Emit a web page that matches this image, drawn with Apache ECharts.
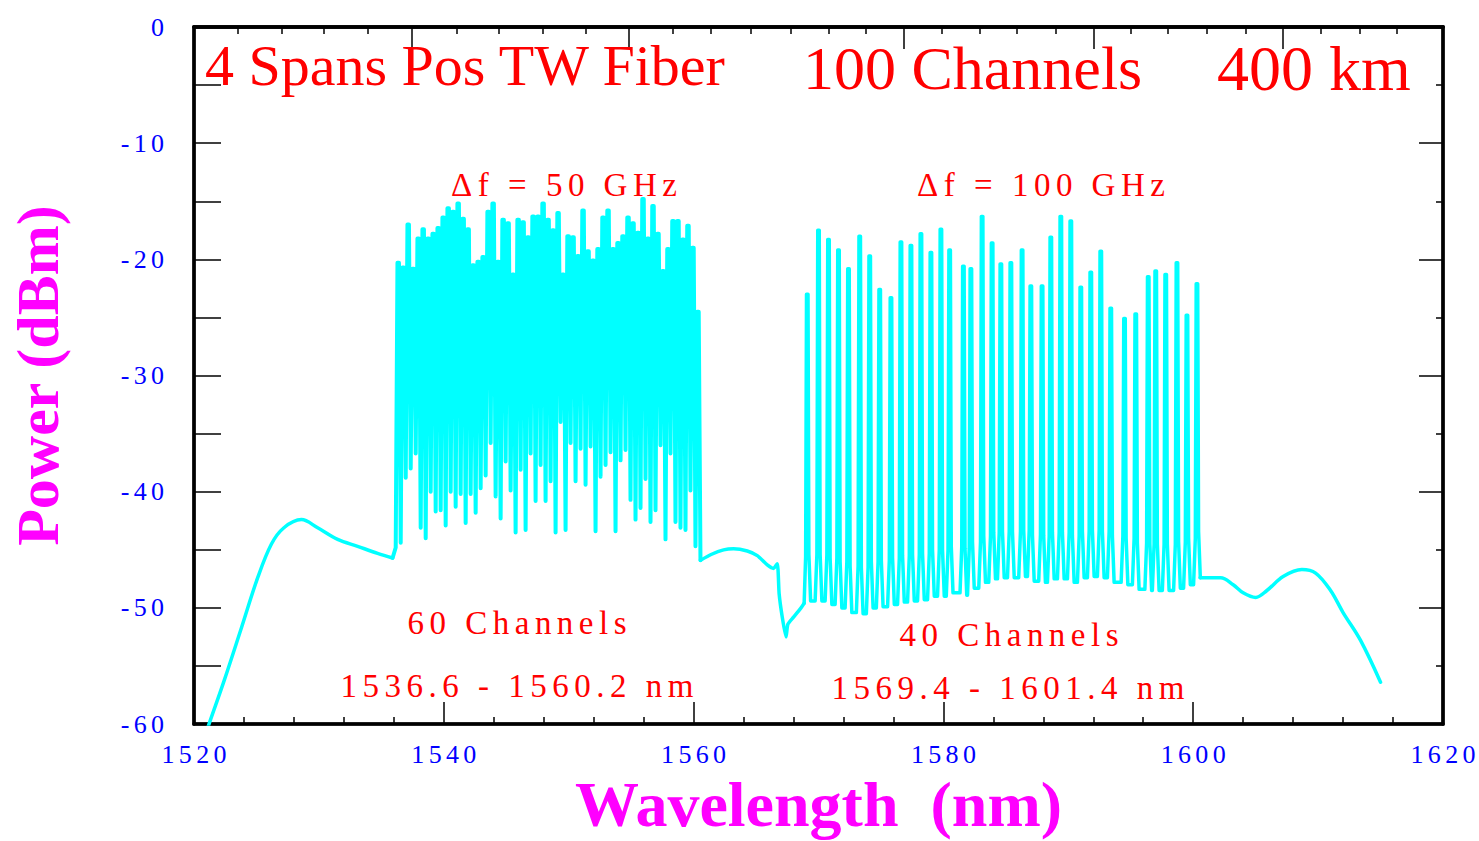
<!DOCTYPE html>
<html>
<head>
<meta charset="utf-8">
<script src="https://cdn.jsdelivr.net/npm/echarts@6/dist/echarts.min.js"></script>
<style>
html,body{margin:0;padding:0;background:#ffffff;}
#chart{width:1479px;height:841px;}
</style>
</head>
<body>
<div id="chart"></div>
<script>
// ---------------- DATA ----------------
// Amplified spontaneous emission background, [wavelength nm, power dBm]
const aseLeft = [[1520.9,-61.0],[1521.2,-60.0],[1522.4,-56.3],[1523.8,-51.7],[1525.1,-47.4],[1526.2,-44.5],
  [1527.2,-43.1],[1528.6,-42.4],[1529.9,-43.1],[1531.5,-44.1],[1533.1,-44.7],[1534.7,-45.3],[1535.9,-45.7]];
const aseMid = [[1560.55,-45.9],[1561.4,-45.4],[1562.4,-45.0],[1563.2,-44.9],[1564.3,-45.1],[1565.1,-45.5],
  [1565.9,-46.3],[1566.4,-46.6],[1566.7,-46.2],[1566.85,-48.8],[1567.1,-50.8],[1567.4,-52.5],[1567.55,-51.4],
  [1568.0,-50.8],[1568.6,-50.0],[1568.85,-49.6]];
const aseRight = [[1600.55,-47.4],[1602.2,-47.4],[1603.2,-48.0],[1604.0,-48.7],[1605.0,-49.1],[1605.9,-48.5],
  [1607.2,-47.3],[1608.7,-46.7],[1609.8,-47.0],[1611.0,-48.5],[1612.0,-50.4],[1613.4,-52.8],[1615.0,-56.4]];

// 50 GHz band: channel wavelengths, channel peak power, power minimum before each channel
const ch50Wl = [1536.35,1536.75,1537.15,1537.55,1537.95,1538.35,1538.75,1539.15,1539.55,1539.95,
  1540.35,1540.75,1541.15,1541.55,1541.95,1542.35,1542.75,1543.15,1543.55,1543.95,
  1544.35,1544.75,1545.15,1545.55,1545.95,1546.35,1546.75,1547.15,1547.55,1547.95,
  1548.35,1548.75,1549.15,1549.55,1549.95,1550.35,1550.75,1551.15,1551.55,1551.95,
  1552.35,1552.75,1553.15,1553.55,1553.95,1554.35,1554.75,1555.15,1555.55,1555.95,
  1556.35,1556.75,1557.15,1557.55,1557.95,1558.35,1558.75,1559.15,1559.55,1559.95,
  1560.35];
const ch50Peak = [-20.3,-20.7,-17.0,-20.8,-18.2,-17.4,-18.2,-17.8,-17.3,-16.4,
  -15.6,-15.9,-15.2,-16.5,-17.4,-20.5,-20.2,-19.8,-15.9,-15.2,
  -20.2,-16.6,-16.9,-21.3,-16.6,-16.8,-18.1,-16.3,-16.3,-15.2,
  -16.6,-17.5,-16.0,-21.3,-18.0,-18.1,-19.7,-15.8,-19.3,-20.1,
  -19.1,-16.4,-15.8,-19.1,-18.6,-18.0,-16.4,-16.9,-17.7,-14.8,
  -18.2,-15.4,-17.8,-21.0,-19.1,-16.7,-16.7,-18.3,-17.1,-19.0,
  -24.5];
const ch50Valley = [-44.8,
  -44.4,-38.8,-38.0,-36.7,-43.1,-44.0,-40.0,-41.7,-41.6,-42.9,
  -40.0,-41.3,-40.2,-42.7,-40.2,-41.8,-39.7,-38.6,-35.8,-40.4,
  -42.3,-37.4,-39.9,-43.5,-38.1,-43.3,-36.7,-40.8,-37.7,-40.8,
  -39.1,-43.5,-34.0,-43.3,-35.8,-39.1,-36.3,-39.4,-36.1,-43.4,
  -38.7,-37.7,-36.6,-43.4,-37.3,-36.4,-40.7,-42.4,-41.4,-38.9,
  -42.6,-41.6,-36.0,-44.1,-36.7,-42.6,-43.1,-43.3,-39.9,-44.7];

// 100 GHz band: channel wavelengths, peak power, floor level (before first + after each channel)
const ch100Wl = [1569.1,1570.0,1570.8,1571.6,1572.4,1573.3,1574.1,1574.9,1575.8,1576.6,
  1577.4,1578.2,1579.0,1579.8,1580.5,1581.6,1582.2,1583.1,1583.9,1584.6,
  1585.4,1586.3,1587.0,1587.9,1588.6,1589.4,1590.2,1591.0,1591.8,1592.6,
  1593.4,1594.5,1595.4,1596.4,1597.0,1597.8,1598.7,1599.5,1600.3];
const ch100Peak = [-23.0,-17.5,-18.3,-19.2,-20.8,-18.0,-19.7,-22.6,-23.3,-18.5,
  -18.8,-17.8,-19.4,-17.4,-19.2,-20.6,-20.8,-16.3,-18.6,-20.4,
  -20.3,-19.2,-22.3,-22.3,-18.1,-16.3,-16.7,-22.4,-21.1,-19.3,
  -24.2,-25.1,-24.7,-21.5,-21.0,-21.3,-20.3,-24.8,-22.1];
const ch100Floor = [-49.6,-49.4,-49.4,-49.7,-50.0,-50.4,-50.5,-50.0,-49.9,-49.7,
  -49.5,-49.4,-49.3,-49.0,-49.0,-48.7,-48.9,-48.3,-47.8,-47.5,
  -47.4,-47.4,-47.3,-47.7,-47.8,-47.5,-47.5,-47.8,-47.4,-47.3,
  -47.4,-47.8,-48.0,-48.4,-48.5,-48.5,-48.5,-48.3,-48.0,-47.4];

// Tick values
const xRange = [1520, 1620];
const yRange = [-60, 0];
const topMajorTicks = [1537.4, 1554.8, 1576.8, 1592.0, 1607.2];
const topMinorTicks = [1523.5,1527.0,1530.4,1533.9,1541.0,1544.4,1547.9,1551.4,1558.3,1561.4,1564.6,
  1567.8,1570.8,1573.8,1579.9,1582.9,1585.9,1589.0,1595.0,1598.0,1601.1,1604.2,1610.2,1613.3,1616.3];

// Texts
const titleTexts = ['4 Spans Pos TW Fiber', '100 Channels', '400 km'];
const noteTexts = ['\u0394f = 50 GHz', '\u0394f = 100 GHz', '60 Channels', '1536.6 - 1560.2 nm',
  '40 Channels', '1569.4 - 1601.4 nm'];

// ---------------- DRAWING STYLE (peak shape) ----------------
const PEAK50_HALF = 0.06, VALLEY50_OFF = 0.2;
const PEAK100_HALF = 0.06, SKIRT100_X = 0.13, BASE100_X = 0.27, SKIRT100_RISE = 4;

// ---------------- BUILD THE TRACES ----------------
const band50 = [aseLeft[aseLeft.length - 1]];
ch50Wl.forEach((w, i) => {
  band50.push([w - VALLEY50_OFF, ch50Valley[i]]);
  band50.push([w - PEAK50_HALF, ch50Peak[i]]);
  band50.push([w + PEAK50_HALF, ch50Peak[i]]);
});
band50.push(aseMid[0]);

const band100 = [aseMid[aseMid.length - 1]];
ch100Wl.forEach((w, i) => {
  const fl = ch100Floor[i], fr = ch100Floor[i + 1];
  band100.push([w - BASE100_X, fl]);
  band100.push([w - SKIRT100_X, fl + SKIRT100_RISE]);
  band100.push([w - PEAK100_HALF, ch100Peak[i]]);
  band100.push([w + PEAK100_HALF, ch100Peak[i]]);
  band100.push([w + SKIRT100_X, fr + SKIRT100_RISE]);
  band100.push([w + BASE100_X, fr]);
});
band100.push(aseRight[0]);

const SERIF = '"Liberation Serif", "Times New Roman", serif';
const spaced = s => Array.from(s).join('\u2006');

const chart = echarts.init(document.getElementById('chart'), null, {renderer: 'svg'});

const tickStyle = {color: '#000', width: 1.5};
const frameLine = {show: true, onZero: false, lineStyle: {color: '#000', width: 3.5}};
const CYAN = '#00ffff';

function note(text, x, y, size) {
  return {type: 'text', x: x, y: y, z: 100,
    style: {text: spaced(text), fill: '#ff0000', fontFamily: SERIF, fontSize: size,
      align: 'center', verticalAlign: 'middle'}};
}
function title(text, x, y, size) {
  return {type: 'text', x: x, y: y, z: 100,
    style: {text: text, fill: '#ff0000', fontFamily: SERIF, fontSize: size,
      align: 'left', verticalAlign: 'middle'}};
}
function trace(data, width, smooth) {
  return {type: 'line', xAxisIndex: 0, yAxisIndex: 0, data: data,
    showSymbol: false, symbol: 'none', smooth: smooth, clip: true, sampling: null,
    lineStyle: {color: CYAN, width: width, join: 'round', cap: 'round'},
    emphasis: {disabled: true}, silent: true};
}

chart.setOption({
  animation: false,
  backgroundColor: '#ffffff',
  grid: {left: 193, right: 36, top: 27, bottom: 114, show: true, borderColor: '#000', borderWidth: 3, backgroundColor: 'transparent'},
  xAxis: [
    {type: 'value', position: 'bottom', min: xRange[0], max: xRange[1], interval: 20,
      axisLine: frameLine,
      axisTick: {show: true, inside: true, length: 22, lineStyle: tickStyle},
      minorTick: {show: true, splitNumber: 5, length: 7, lineStyle: tickStyle},
      splitLine: {show: false}, minorSplitLine: {show: false},
      axisLabel: {margin: 17, color: '#0000ff', fontFamily: SERIF, fontSize: 26,
        formatter: v => spaced(String(v))},
      name: 'Wavelength  (nm)', nameLocation: 'middle', nameGap: 47,
      nameTextStyle: {color: '#ff00ff', fontFamily: SERIF, fontSize: 64, fontWeight: 'bold'}},
    {type: 'value', position: 'top', min: xRange[0], max: xRange[1],
      axisLine: frameLine,
      axisTick: {show: true, inside: true, length: 22, lineStyle: tickStyle, customValues: topMajorTicks},
      axisLabel: {show: false}, splitLine: {show: false}},
    {type: 'value', position: 'top', min: xRange[0], max: xRange[1],
      axisLine: frameLine,
      axisTick: {show: true, inside: true, length: 7, lineStyle: tickStyle, customValues: topMinorTicks},
      axisLabel: {show: false}, splitLine: {show: false}}
  ],
  yAxis: [
    {type: 'value', position: 'left', min: yRange[0], max: yRange[1], interval: 10,
      axisLine: frameLine,
      axisTick: {show: true, inside: true, length: 27, lineStyle: tickStyle},
      minorTick: {show: true, splitNumber: 2, length: 27, lineStyle: tickStyle},
      splitLine: {show: false}, minorSplitLine: {show: false},
      axisLabel: {margin: 30, color: '#0000ff', fontFamily: SERIF, fontSize: 26,
        formatter: v => spaced(String(v))},
      name: 'Power (dBm)', nameLocation: 'middle', nameRotate: 90, nameGap: 126,
      nameTextStyle: {color: '#ff00ff', fontFamily: SERIF, fontSize: 60, fontWeight: 'bold'}},
    {type: 'value', position: 'right', min: yRange[0], max: yRange[1], interval: 10,
      axisLine: frameLine,
      axisTick: {show: true, inside: true, length: 24, lineStyle: tickStyle},
      minorTick: {show: true, splitNumber: 2, length: 7, lineStyle: tickStyle},
      splitLine: {show: false}, minorSplitLine: {show: false},
      axisLabel: {show: false}}
  ],
  series: [
    trace(aseLeft, 3.5, 0.35),
    trace(band50, 4, false),
    trace(aseMid, 3.5, 0.2),
    trace(band100, 3.5, false),
    trace(aseRight, 3.5, 0.35)
  ],
  graphic: [
    title(titleTexts[0], 205, 65, 58),
    title(titleTexts[1], 803, 68, 62),
    title(titleTexts[2], 1217, 68, 64),
    note(noteTexts[0], 564, 185, 33),
    note(noteTexts[1], 1041, 185, 33),
    note(noteTexts[2], 517, 623, 33),
    note(noteTexts[3], 517, 686, 33),
    note(noteTexts[4], 1009, 635, 33),
    note(noteTexts[5], 1008, 688, 33)
  ]
});
</script>
</body>
</html>
